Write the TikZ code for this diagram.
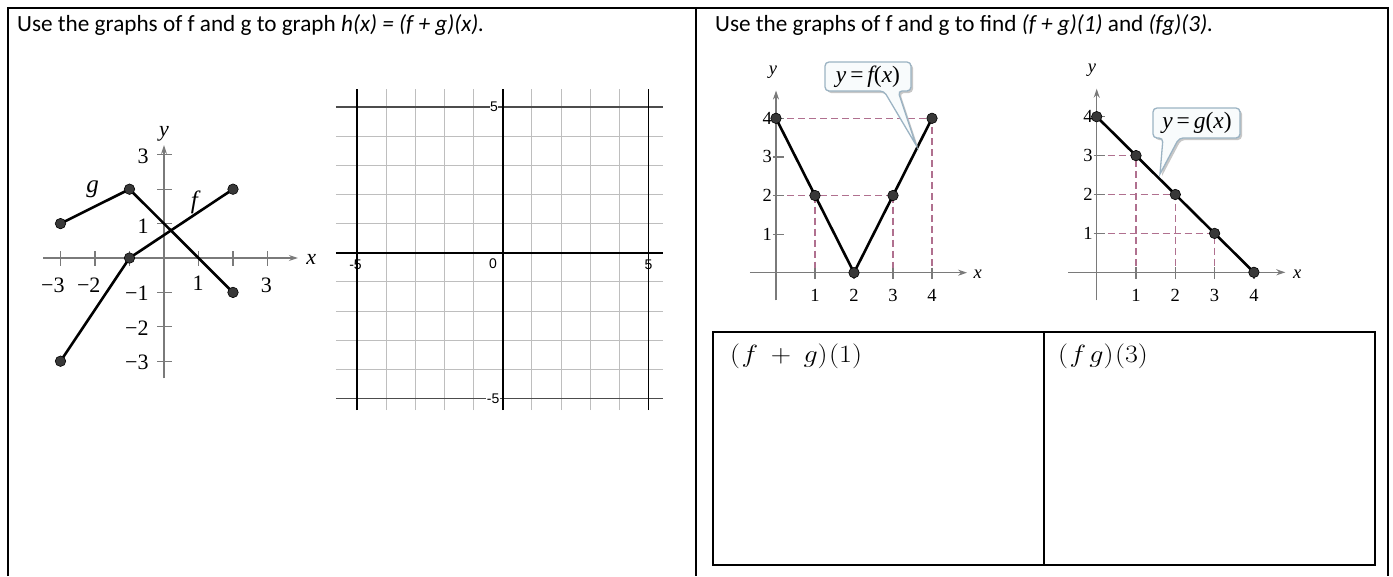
\documentclass[tikz,border=0pt]{standalone}
\usepackage{fontspec}
\usepackage{graphicx}
\setmainfont{Carlito}
\newfontfamily\tnr{Liberation Serif}
\newfontfamily\arial{Liberation Sans}
\usetikzlibrary{arrows.meta}
\definecolor{axisgray}{HTML}{7A7A7A}
\definecolor{dashpink}{HTML}{B0708F}
\definecolor{callborder}{HTML}{9BB3C3}
\definecolor{callfill}{HTML}{F8FBFC}
\definecolor{gridgray}{HTML}{BEBEBE}
\begin{document}
\begin{tikzpicture}[x=1pt,y=-1pt,
  frame/.style={line width=2.2pt, black},
  tbl/.style={line width=1.8pt, black},
  axis/.style={axisgray, line width=1.3pt},
  axarrow/.style={axis, -{Stealth[length=9pt,width=6pt]}},
  tickmark/.style={axisgray, line width=1.2pt},
  curve/.style={black, line width=2.6pt, line join=round},
  dot/.style={circle, fill=black!78, draw=black, line width=0.6pt, inner sep=0pt, minimum size=10.5pt},
  guide/.style={dashpink, line width=1.2pt, dash pattern=on 7pt off 4pt},
  lbl/.style={font=\tnr\fontsize{22}{22}\selectfont, inner sep=0pt},
  fglbl/.style={font=\tnr\itshape\fontsize{25}{25}\selectfont, inner sep=0pt},
  rlbl/.style={font=\tnr\fontsize{18.5}{18.5}\selectfont, inner sep=0pt},
  glbl/.style={font=\arial\fontsize{14}{14}\selectfont, inner sep=0.5pt},
  head/.style={font=\fontsize{23.2}{23.2}\selectfont, inner sep=0pt, anchor=base west},
  cell/.style={font=\fontsize{23.5}{23.5}\selectfont, inner sep=0pt, anchor=base west},
  gridthin/.style={gridgray, line width=1pt},
  gridfive/.style={black!70, line width=1.4pt},
  gridaxis/.style={black, line width=1.8pt},
  callbox/.style={draw=callborder, fill=callfill, line width=1.3pt, rounded corners=4pt},
  callshadow/.style={fill=black!22, rounded corners=4pt},
  calltext/.style={font=\tnr\fontsize{23.5}{23.5}\selectfont, inner sep=0pt}
]
\useasboundingbox (0,0) rectangle (1393,576);

% ---------- frame ----------
\draw[frame] (8,576) -- (8,8) -- (1388,8) -- (1388,576);
\draw[frame] (696,8) -- (696,576);

% ---------- headers ----------
\node[head] (h1) at (17,31.5) {Use the graphs of f and g to graph \textit{h(x) = (f + g)(x).}};
\node[head] (h2) at (715,31.5) {Use the graphs of f and g to find \textit{(f + g)(1)} and \textit{(fg)(3).}};

% ---------- left graph of f and g ----------
\begin{scope}[shift={(164pt,-258pt)}, x=34.5pt, y=34.4pt]
  \draw[axarrow] (-3.5,0) coordinate (lxa) -- (3.88,0) coordinate (lxb);
  \draw[axarrow] (0,-3.5) coordinate (lya) -- (0,3.28) coordinate (lyb);
  \node[lbl] (lx) at (4.27,-0.04) {\itshape x};
  \node[lbl] (ly) at (0,3.6) {\itshape y};
  \foreach \i in {-3,-2,-1,1,2,3} {
    \draw[tickmark] (\i,-0.22) -- (\i,0.2);
    \draw[tickmark] (-0.2,\i) -- (0.24,\i);
  }
  \node[lbl] (lxm3) at (-3.22,-0.78) {−3};
  \node[lbl] (lxm2) at (-2.18,-0.78) {−2};
  \node[lbl] (lx1) at (0.99,-0.74) {1};
  \node[lbl] (lx3) at (2.97,-0.78) {3};
  \node[lbl, anchor=east] (ly3) at (-0.44,2.95) {3};
  \node[lbl, anchor=east] (ly1) at (-0.44,0.92) {1};
  \node[lbl, anchor=east] (lym1) at (-0.44,-1.02) {−1};
  \node[lbl, anchor=east] (lym2) at (-0.44,-2.05) {−2};
  \node[lbl, anchor=east] (lym3) at (-0.44,-3.02) {−3};
  \coordinate (g1) at (-3,1);
  \coordinate (g2) at (-1,2);
  \coordinate (g3) at (2,-1);
  \coordinate (f1) at (-3,-3);
  \coordinate (f2) at (-1,0);
  \coordinate (f3) at (2,2);
  \draw[curve] (g1) -- (g2) -- (g3);
  \draw[curve] (f1) -- (f2) -- (f3);
  \foreach \p in {g1,g2,g3,f1,f2,f3} \node[dot] (d\p) at (\p) {};
  \node[fglbl] (glab) at (-2.07,2.0) {g};
  \node[fglbl] (flab) at (0.88,1.62) {f};
\end{scope}

% ---------- empty grid ----------
\begin{scope}[shift={(502.7pt,-252.7pt)}, x=29.15pt, y=29.15pt]
  \foreach \i in {-4,-3,-2,-1,1,2,3,4} {
    \draw[gridthin] (\i,-5.4) -- (\i,5.6);
    \draw[gridthin] (-5.72,\i) -- (5.5,\i);
  }
  \draw[gridfive] (-5.72,5) -- (5.5,5);
  \draw[gridfive] (-5.72,-5) -- (5.5,-5);
  \draw[gridaxis, line width=1.3pt] (-5,-5.4) -- (-5,5.6);
  \draw[gridaxis, line width=1.3pt] (5,-5.4) -- (5,5.6);
  \draw[gridaxis] (-5.72,0) -- (5.5,0);
  \draw[gridaxis] (0,-5.4) -- (0,5.6);
  \node[glbl, fill=white] (gy5) at (-0.3,5) {5};
  \node[glbl, fill=white] (gym5) at (-0.33,-5) {-5};
  \node[glbl] (g0) at (-0.33,-0.37) {0};
  \node[glbl] (gxm5) at (-5.05,-0.42) {-5};
  \node[glbl] (gx5) at (5.0,-0.42) {5};
\end{scope}

% ---------- right graph: f ----------
\begin{scope}[shift={(776pt,-272.7pt)}, x=39pt, y=38.6pt]
  \draw[guide] (0,4) -- (4,4) -- (4,0);
  \draw[guide] (0,2) -- (3,2);
  \draw[guide] (1,2) -- (1,0);
  \draw[guide] (3,2) -- (3,0);
  \draw[axarrow] (-0.67,0) -- (4.9,0);
  \draw[axarrow] (0,-0.72) -- (0,4.72);
  \node[rlbl] (fx) at (5.17,-0.03) {\itshape x};
  \node[rlbl] (fy) at (-0.08,5.2) {\itshape y};
  \foreach \i in {1,2,3,4} {
    \draw[tickmark] (\i,0.13) -- (\i,-0.17);
    \draw[tickmark] (-0.08,\i) -- (0.2,\i);
    \node[rlbl] (fxl\i) at (\i,-0.6) {\i};
    \node[rlbl, anchor=east] (fyl\i) at (-0.1,\i) {\i};
  }
  \coordinate (fa) at (0,4);
  \coordinate (fb) at (1,2);
  \coordinate (fc) at (2,0);
  \coordinate (fd) at (3,2);
  \coordinate (fe) at (4,4);
  \draw[curve] (fa) -- (fc) -- (fe);
  \foreach \p in {fa,fb,fc,fd,fe} \node[dot] (d\p) at (\p) {};
\end{scope}

% callout f
\fill[callshadow] (827,64) -- (913,64) -- (913,93) -- (900,93) [sharp corners] -- (918,147) [rounded corners=4pt] -- (886,93) -- (827,93) -- cycle;
\draw[callbox] (825,62) -- (911,62) -- (911,91) -- (898,91) [sharp corners] -- (916,145) [rounded corners=4pt] -- (884,91) -- (825,91) -- cycle;
\node[calltext] (cf) at (868,76.5) {\itshape y\,\upshape=\,\itshape f\upshape(\itshape x\upshape)};

% ---------- right graph: g ----------
\begin{scope}[shift={(1096.7pt,-272.3pt)}, x=39.3pt, y=38.9pt]
  \draw[guide] (0,3) -- (1,3) -- (1,0);
  \draw[guide] (0,2) -- (2,2) -- (2,0);
  \draw[guide] (0,1) -- (3,1) -- (3,0);
  \draw[axarrow] (-0.73,0) -- (4.8,0);
  \draw[axarrow] (0,-0.72) -- (0,4.72);
  \node[rlbl] (gx) at (5.1,-0.04) {\itshape x};
  \node[rlbl] (gy) at (-0.12,5.2) {\itshape y};
  \foreach \i in {1,2,3,4} {
    \draw[tickmark] (\i,0.13) -- (\i,-0.17);
    \draw[tickmark] (-0.08,\i) -- (0.2,\i);
    \node[rlbl] (gxl\i) at (\i,-0.6) {\i};
    \node[rlbl, anchor=east] (gyl\i) at (-0.1,\i) {\i};
  }
  \coordinate (ga) at (0,4);
  \coordinate (gb) at (1,3);
  \coordinate (gc) at (2,2);
  \coordinate (gd) at (3,1);
  \coordinate (ge) at (4,0);
  \draw[curve] (ga) -- (ge);
  \foreach \p in {ga,gb,gc,gd,ge} \node[dot] (d\p) at (\p) {};
\end{scope}

% callout g
\fill[callshadow] (1155,110) -- (1242,110) -- (1242,140) -- (1181,140) [sharp corners] -- (1162,176) [rounded corners=4pt] -- (1165,140) -- (1155,140) -- cycle;
\draw[callbox] (1153,108) -- (1240,108) -- (1240,138) -- (1179,138) [sharp corners] -- (1160,174) [rounded corners=4pt] -- (1163,138) -- (1153,138) -- cycle;
\node[calltext] (cg) at (1197,123) {\itshape y\,\upshape=\,\itshape g\upshape(\itshape x\upshape)};

% ---------- answer table ----------
\draw[tbl] (713,332) rectangle (1375,565);
\draw[tbl] (1044,332) -- (1044,565);
\node[cell] (c1) at (730,362) {\scalebox{1.13}[1]{$(\mkern1mu f\mkern4mu+\mkern4mu g)\mkern1mu(1)$}};
\node[cell] (c2) at (1058,362) {\scalebox{1.13}[1]{$(\mkern1mu f\mkern2mu g)\mkern1mu(3)$}};
\end{tikzpicture}
\end{document}
